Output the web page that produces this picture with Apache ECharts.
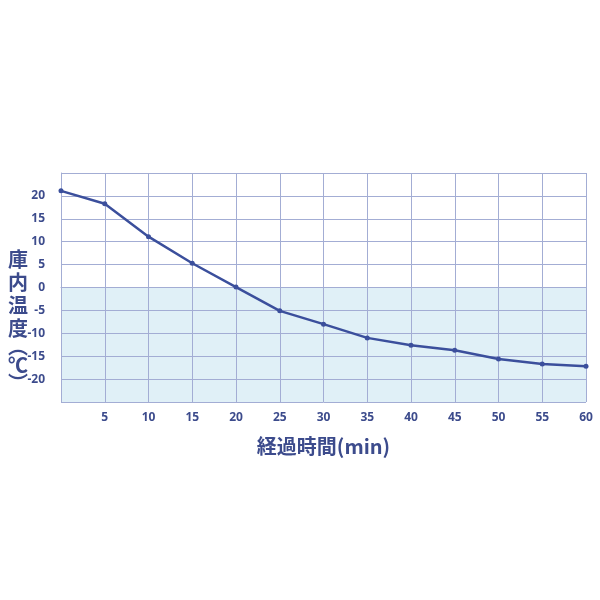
<!DOCTYPE html>
<html><head><meta charset="utf-8">
<script src="https://cdn.jsdelivr.net/npm/echarts@6/dist/echarts.min.js"></script>
<style>html,body{margin:0;padding:0;background:#fff}#c{width:600px;height:600px}</style>
</head><body><div id="c"></div>
<script>
const minutes = [0, 5, 10, 15, 20, 25, 30, 35, 40, 45, 50, 55, 60];
const temps = [21.1, 18.3, 11.1, 5.3, 0.1, -5.1, -8.0, -11.0, -12.6, -13.7, -15.6, -16.7, -17.2];
const yTitle = ['庫', '内', '温', '度'];
const xTitle = '経過時間(min)';
const textColor = '#3c4b8c';
const gridColor = '#a3add4';
const lineColor = '#3b4f9c';
const fillBelow = '#e0f0f7';

const chart = echarts.init(document.getElementById('c'));
chart.setOption({
  animation: false,
  grid: {left: 61, right: 14, top: 173, bottom: 198},
  xAxis: {
    type: 'value', min: 0, max: 60, interval: 5,
    name: xTitle, nameLocation: 'middle', nameGap: 34,
    nameTextStyle: {color: textColor, fontSize: 20, fontWeight: 'bold', fontFamily: 'Noto Sans CJK JP'},
    axisLine: {show: true, lineStyle: {color: gridColor, width: 1}},
    axisTick: {show: false},
    splitLine: {show: true, lineStyle: {color: gridColor, width: 1}},
    axisLabel: {color: textColor, fontSize: 12, fontWeight: 'bold', margin: 10, fontFamily: 'Noto Sans',
      formatter: v => v === 0 ? '' : String(v)}
  },
  yAxis: {
    type: 'value', min: -25, max: 25, interval: 5,
    axisLine: {show: true, lineStyle: {color: gridColor, width: 1}},
    axisTick: {show: false},
    splitLine: {show: true, lineStyle: {color: gridColor, width: 1}},
    splitArea: {show: true, areaStyle: {color: [fillBelow, fillBelow, fillBelow, fillBelow, fillBelow, '#fff', '#fff', '#fff', '#fff', '#fff']}},
    axisLabel: {color: textColor, fontSize: 12, fontWeight: 'bold', margin: 16, fontFamily: 'Noto Sans',
      formatter: v => (v === 25 || v === -25) ? '' : String(v)}
  },
  graphic: [{
    type: 'text', left: 8, top: 249,
    style: {
      text: yTitle.map(c => '{a|' + c + '}').join('\n') + '\n{p|︵}\n{a|℃}\n{p|︶}',
      rich: {
        a: {fontSize: 20, fontWeight: 'bold', lineHeight: 23, fill: textColor, fontFamily: 'Noto Sans CJK JP', align: 'center'},
        p: {fontSize: 20, fontWeight: 'bold', lineHeight: 14, fill: textColor, fontFamily: 'Noto Sans CJK JP', align: 'center'}
      }
    }
  }],
  series: [{
    type: 'line',
    data: minutes.map((m, i) => [m, temps[i]]),
    symbol: 'circle', symbolSize: 5,
    lineStyle: {color: lineColor, width: 2.5},
    itemStyle: {color: lineColor}
  }]
});
</script></body></html>
